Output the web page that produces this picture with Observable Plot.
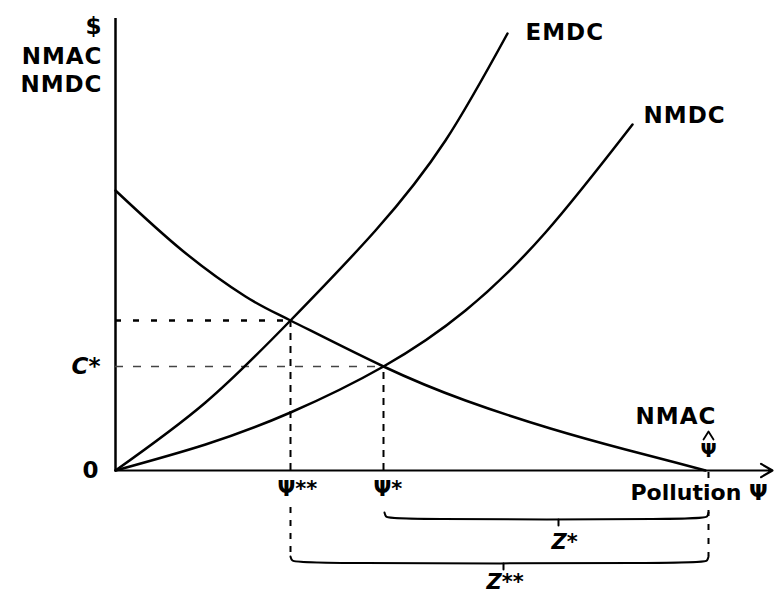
<!DOCTYPE html>
<html><head><meta charset="utf-8">
<script src="https://cdn.jsdelivr.net/npm/d3@7"></script>
<script src="https://cdn.jsdelivr.net/npm/@observablehq/plot@0.6"></script>
<style>body{margin:0;background:#fff} #chart .sp, #chart .sp text{letter-spacing:1px}</style>
</head><body><div id="chart"></div>
<script>
// Curve readings (x = pollution, y = $), in chart units
const nmacX = [0, 68, 130, 175, 268, 350, 435, 510, 560, 590];
const nmacY = [280, 219, 174, 150, 104, 70, 42, 21, 8, 0];
const emdcX = [0, 90, 175, 260, 330, 392];
const emdcY = [0, 68, 150, 240, 330, 437];
const nmdcX = [0, 90, 175, 268, 350, 430, 517];
const nmdcY = [0, 26, 58, 104, 160, 238, 346];
// Key levels
const psiStarStar = 175, psiStar = 268, psiHat = 593;
const cStar = 104, cStarStar = 150;
// Braces below the axis
const zStarX = [psiStar + 1, psiStar + 2, psiStar + 6, psiHat - 4, psiHat - 1, psiHat];
const zStarY = [-42, -46, -49, -49, -46, -42];
const zStarTickX = [443, 443], zStarTickY = [-49, -55];
const zSSX = [psiStarStar, psiStarStar + 1, psiStarStar + 7, psiHat - 5, psiHat - 1, psiHat];
const zSSY = [-86, -90, -93, -93, -90, -86];
const zSSTickX = [388, 388], zSSTickY = [-93, -99];
// Hat over the Ψ marker
const hatX = [psiHat - 5, psiHat, psiHat + 5];
const hatY = [31, 39, 31];

const pts = (xs, ys) => xs.map((x, i) => ({x, y: ys[i]}));
const F = "DejaVu Sans, Liberation Sans, sans-serif";
const lab = {fontFamily: F, fontSize: 23, fontWeight: "bold", className: "sp"};
const ital = {fontFamily: F, fontSize: 21, fontStyle: "italic", fontWeight: "bold"};

const chart = Plot.plot({
  width: 775, height: 595,
  marginLeft: 115, marginRight: 5, marginTop: 18, marginBottom: 125,
  x: {domain: [0, 655], axis: null},
  y: {domain: [0, 452], axis: null},
  marks: [
    Plot.ruleX([0], {y1: 0, y2: 452, strokeWidth: 2.5}),
    Plot.arrow([{x1: 0, y1: 0, x2: 657, y2: 0}], {x1: "x1", y1: "y1", x2: "x2", y2: "y2", headLength: 9, strokeWidth: 2.2}),
    // dashed guides
    Plot.ruleY([cStarStar], {x1: 0, x2: psiStarStar, strokeDasharray: "6,12", strokeWidth: 2.5}),
    Plot.ruleY([cStar], {x1: 0, x2: psiStar, strokeDasharray: "8,10", strokeWidth: 1.5, stroke: "#444"}),
    Plot.ruleX([psiStarStar], {y1: 0, y2: cStarStar, strokeDasharray: "7,6", strokeWidth: 2}),
    Plot.ruleX([psiStar], {y1: 0, y2: cStar, strokeDasharray: "7,6", strokeWidth: 2}),
    Plot.ruleX([psiStarStar], {y1: -37, y2: -86, strokeDasharray: "6,7", strokeWidth: 2}),
    Plot.ruleX([psiHat], {y1: -40, y2: -86, strokeDasharray: "6,8", strokeWidth: 2}),
    Plot.ruleX([psiHat], {y1: -2, y2: -8, strokeWidth: 2}),
    // curves
    Plot.line(pts(nmacX, nmacY), {x: "x", y: "y", curve: "natural", strokeWidth: 2.5}),
    Plot.line(pts(emdcX, emdcY), {x: "x", y: "y", curve: "natural", strokeWidth: 2.5}),
    Plot.line(pts(nmdcX, nmdcY), {x: "x", y: "y", curve: "natural", strokeWidth: 2.5}),
    // braces
    Plot.line(pts(zStarX, zStarY), {x: "x", y: "y", curve: "basis", strokeWidth: 2}),
    Plot.line(pts(zStarTickX, zStarTickY), {x: "x", y: "y", strokeWidth: 2}),
    Plot.line(pts(zSSX, zSSY), {x: "x", y: "y", curve: "basis", strokeWidth: 2}),
    Plot.line(pts(zSSTickX, zSSTickY), {x: "x", y: "y", strokeWidth: 2}),
    Plot.line(pts(hatX, hatY), {x: "x", y: "y", strokeWidth: 1.8}),
    // labels
    Plot.text(["$"], {x: -13, y: 444, textAnchor: "end", ...lab}),
    Plot.text(["NMAC"], {x: -13, y: 414, textAnchor: "end", ...lab}),
    Plot.text(["NMDC"], {x: -13, y: 386, textAnchor: "end", ...lab}),
    Plot.text(["EMDC"], {x: 410, y: 438, textAnchor: "start", ...lab}),
    Plot.text(["NMDC"], {x: 528, y: 355, textAnchor: "start", ...lab}),
    Plot.text(["NMAC"], {x: 520, y: 54, textAnchor: "start", ...lab}),
    Plot.text(["Ψ"], {x: psiHat, y: 20, textAnchor: "middle", fontFamily: F, fontSize: 19, fontWeight: "bold"}),
    Plot.text(["0"], {x: -25, y: 0, textAnchor: "middle", fontFamily: F, fontSize: 23, fontWeight: "bold"}),
    Plot.text(["C*"], {x: -15, y: cStar, textAnchor: "end", ...ital, fontSize: 23}),
    Plot.text(["Ψ**"], {x: psiStarStar - 13, y: -19, textAnchor: "start", fontFamily: F, fontSize: 21, fontWeight: "bold"}),
    Plot.text(["Ψ*"], {x: psiStar - 10, y: -19, textAnchor: "start", fontFamily: F, fontSize: 21, fontWeight: "bold"}),
    Plot.text(["Pollution Ψ"], {x: 515, y: -22, textAnchor: "start", fontFamily: F, fontSize: 22, fontWeight: "bold"}),
    Plot.text(["Z*"], {x: 436, y: -72, textAnchor: "start", ...ital}),
    Plot.text(["Z**"], {x: 371, y: -112, textAnchor: "start", ...ital})
  ]
});
document.getElementById("chart").appendChild(chart);
</script>
</body></html>
